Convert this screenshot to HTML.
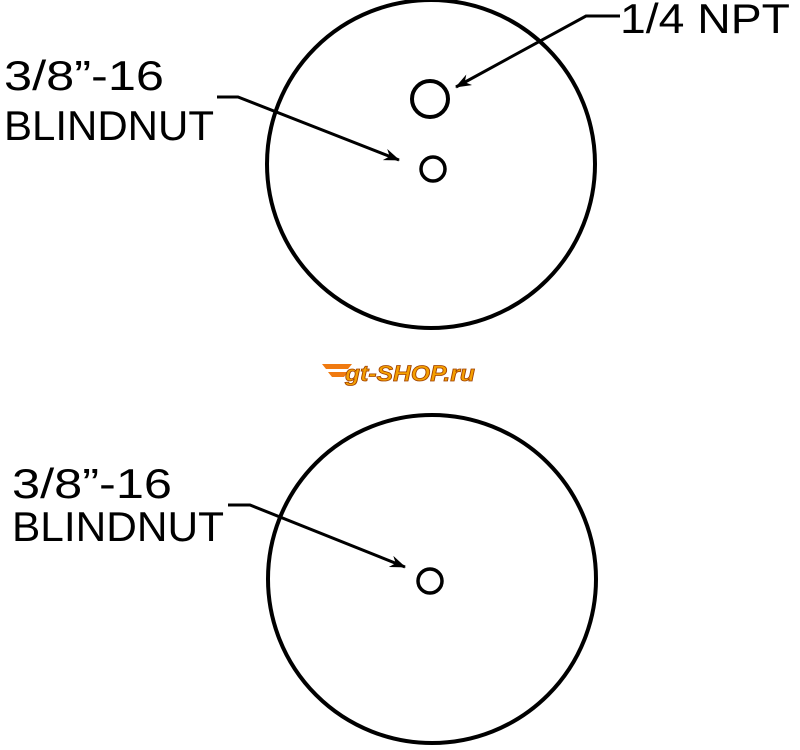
<!DOCTYPE html>
<html><head><style>
html,body{margin:0;padding:0;background:#fff;}
</style></head><body>
<svg width="800" height="745" viewBox="0 0 800 745" xmlns="http://www.w3.org/2000/svg">
<defs><marker id="a" markerWidth="16" markerHeight="12" refX="15" refY="6" orient="auto" markerUnits="userSpaceOnUse"><path d="M0,0 L16,6 L0,12 L5,6 Z" fill="#000"/></marker></defs>
<g fill="none" stroke="#000">
<circle cx="431" cy="164" r="164" stroke-width="4"/>
<circle cx="432" cy="579" r="164" stroke-width="4"/>
<circle cx="430" cy="99" r="18" stroke-width="4"/>
<circle cx="433" cy="169" r="12" stroke-width="3.5"/>
<circle cx="430" cy="581" r="12" stroke-width="3.5"/>
<polyline points="620,16 586,16 456,87" stroke-width="3" marker-end="url(#a)"/>
<polyline points="217,97 238,97 399,160" stroke-width="3" marker-end="url(#a)"/>
<polyline points="228,505 250,505 405,567" stroke-width="3" marker-end="url(#a)"/>
</g>
<g font-family="Liberation Sans, sans-serif" font-size="42" fill="#000">
<text x="620" y="33" textLength="170" lengthAdjust="spacingAndGlyphs">1/4 NPT</text>
<text x="4" y="90" textLength="160" lengthAdjust="spacingAndGlyphs">3/8”-16</text>
<text x="4" y="140" textLength="210" lengthAdjust="spacingAndGlyphs">BLINDNUT</text>
<text x="12" y="498" textLength="160" lengthAdjust="spacingAndGlyphs">3/8”-16</text>
<text x="12" y="541" textLength="212" lengthAdjust="spacingAndGlyphs">BLINDNUT</text>
</g>
<g>
<path d="M322,364 L352,364 L348,369 L326,369 Z M328,372 L348,372 L344,377 L332,377 Z" fill="#f07a10"/>
<text x="345" y="381" font-family="Liberation Sans, sans-serif" font-size="22" font-weight="bold" font-style="italic" fill="#f5a000" stroke="#a04000" stroke-width="0.8" textLength="130" lengthAdjust="spacingAndGlyphs">gt-SHOP.ru</text>
</g>
</svg>
</body></html>
